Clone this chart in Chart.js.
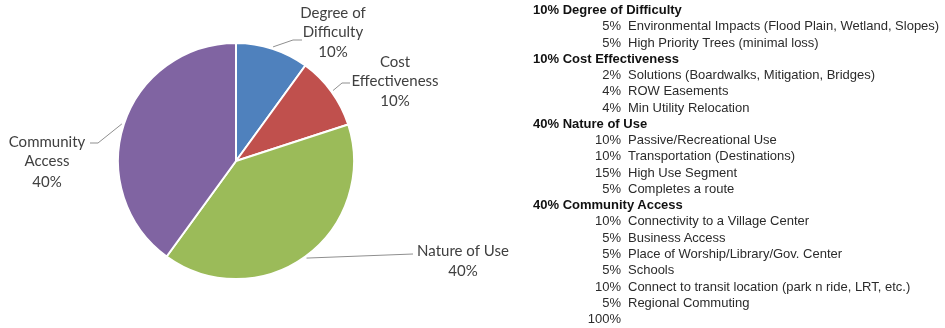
<!DOCTYPE html>
<html>
<head>
<meta charset="utf-8">
<script src="https://cdn.jsdelivr.net/npm/chart.js@4"></script>
<style>
  html, body { margin: 0; padding: 0; background: #ffffff; }
  #wrap { position: relative; width: 945px; height: 328px; overflow: hidden; }
  #chart { position: absolute; left: 0; top: 0; }
  #list { position: absolute; left: 533px; top: 2px; font-family: "Liberation Sans", Arial, sans-serif; font-size: 13px; line-height: 16.27px; color: #2b2b2b; white-space: nowrap; }
  .hdr { font-weight: bold; color: #111; }
  .row { display: flex; }
  .pct { width: 88px; text-align: right; }
  .txt { margin-left: 7px; }
</style>
</head>
<body>
<div id="wrap">
  <canvas id="chart" width="945" height="328"></canvas>
  <div id="list"></div>
</div>
<script>
// ---- data ----
const categories = ['Degree of Difficulty', 'Cost Effectiveness', 'Nature of Use', 'Community Access'];
const weights = [10, 10, 40, 40];
const pieLabelLines = [['Degree of', 'Difficulty'], ['Cost', 'Effectiveness'], ['Nature of Use'], ['Community', 'Access']];
const subWeights = [[5, 5], [2, 4, 4], [10, 10, 15, 5], [10, 5, 5, 5, 10, 5]];
const subLabels = [
  ['Environmental Impacts (Flood Plain, Wetland, Slopes)', 'High Priority Trees (minimal loss)'],
  ['Solutions (Boardwalks, Mitigation, Bridges)', 'ROW Easements', 'Min Utility Relocation'],
  ['Passive/Recreational Use', 'Transportation (Destinations)', 'High Use Segment', 'Completes a route'],
  ['Connectivity to a Village Center', 'Business Access', 'Place of Worship/Library/Gov. Center', 'Schools', 'Connect to transit location (park n ride, LRT, etc.)', 'Regional Commuting']
];
const totalLabel = '100%';

// ---- styles ----
const colors = ['#4F81BD', '#C0504D', '#9BBB59', '#8064A2'];

// label layout relative to pie center: leader path points and text anchor
const labelLayout = [
  { path: [[57, -121], [66, -121]], tx: 97, ty: -148, pctY: -109, lh: 19.5 },
  { path: [[106, -78], [114, -78]], tx: 159, ty: -99, pctY: -60, lh: 19.5 },
  { path: [[177, 93]], tx: 227, ty: 90, pctY: 110, lh: 19.5 },
  { path: [[-138, -18], [-146, -18]], tx: -189, ty: -19, pctY: 21, lh: 19.5 }
];

const labelPlugin = {
  id: 'pieLabels',
  afterDatasetsDraw(chart) {
    const ctx = chart.ctx;
    const meta = chart.getDatasetMeta(0);
    meta.data.forEach((arc, i) => {
      const p = arc.getProps(['x', 'y', 'startAngle', 'endAngle', 'outerRadius'], true);
      const mid = (p.startAngle + p.endAngle) / 2;
      const L = labelLayout[i];
      ctx.save();
      ctx.strokeStyle = '#8f8f8f';
      ctx.lineWidth = 1;
      ctx.beginPath();
      ctx.moveTo(p.x + Math.cos(mid) * (p.outerRadius + 2), p.y + Math.sin(mid) * (p.outerRadius + 2));
      L.path.forEach(pt => ctx.lineTo(p.x + pt[0], p.y + pt[1]));
      ctx.stroke();
      ctx.fillStyle = '#404040';
      ctx.font = '15px Lato, "Open Sans", sans-serif';
      ctx.textAlign = 'center';
      ctx.textBaseline = 'middle';
      pieLabelLines[i].forEach((t, k) => ctx.fillText(t, p.x + L.tx, p.y + L.ty + k * L.lh));
      const total = weights.reduce((a, b) => a + b, 0);
      ctx.fillText(Math.round(weights[i] / total * 100) + '%', p.x + L.tx, p.y + L.pctY);
      ctx.restore();
    });
  }
};

new Chart(document.getElementById('chart'), {
  type: 'pie',
  data: {
    labels: categories,
    datasets: [{
      data: weights,
      backgroundColor: colors,
      borderColor: '#ffffff',
      borderWidth: 2,
      hoverOffset: 0,
      radius: 118
    }]
  },
  options: {
    responsive: false,
    animation: false,
    events: [],
    layout: { padding: { left: 118, right: 591, top: 43, bottom: 49 } },
    plugins: { legend: { display: false }, tooltip: { enabled: false } }
  },
  plugins: [labelPlugin]
});

// ---- right-hand list ----
const list = document.getElementById('list');
categories.forEach((c, i) => {
  const h = document.createElement('div');
  h.className = 'hdr';
  h.textContent = weights[i] + '% ' + c;
  list.appendChild(h);
  subLabels[i].forEach((s, k) => {
    const r = document.createElement('div');
    r.className = 'row';
    const a = document.createElement('span'); a.className = 'pct'; a.textContent = subWeights[i][k] + '%';
    const b = document.createElement('span'); b.className = 'txt'; b.textContent = s;
    r.appendChild(a); r.appendChild(b);
    list.appendChild(r);
  });
});
const tot = document.createElement('div');
tot.className = 'row';
const ta = document.createElement('span'); ta.className = 'pct'; ta.textContent = totalLabel;
tot.appendChild(ta);
list.appendChild(tot);
</script>
</body>
</html>
